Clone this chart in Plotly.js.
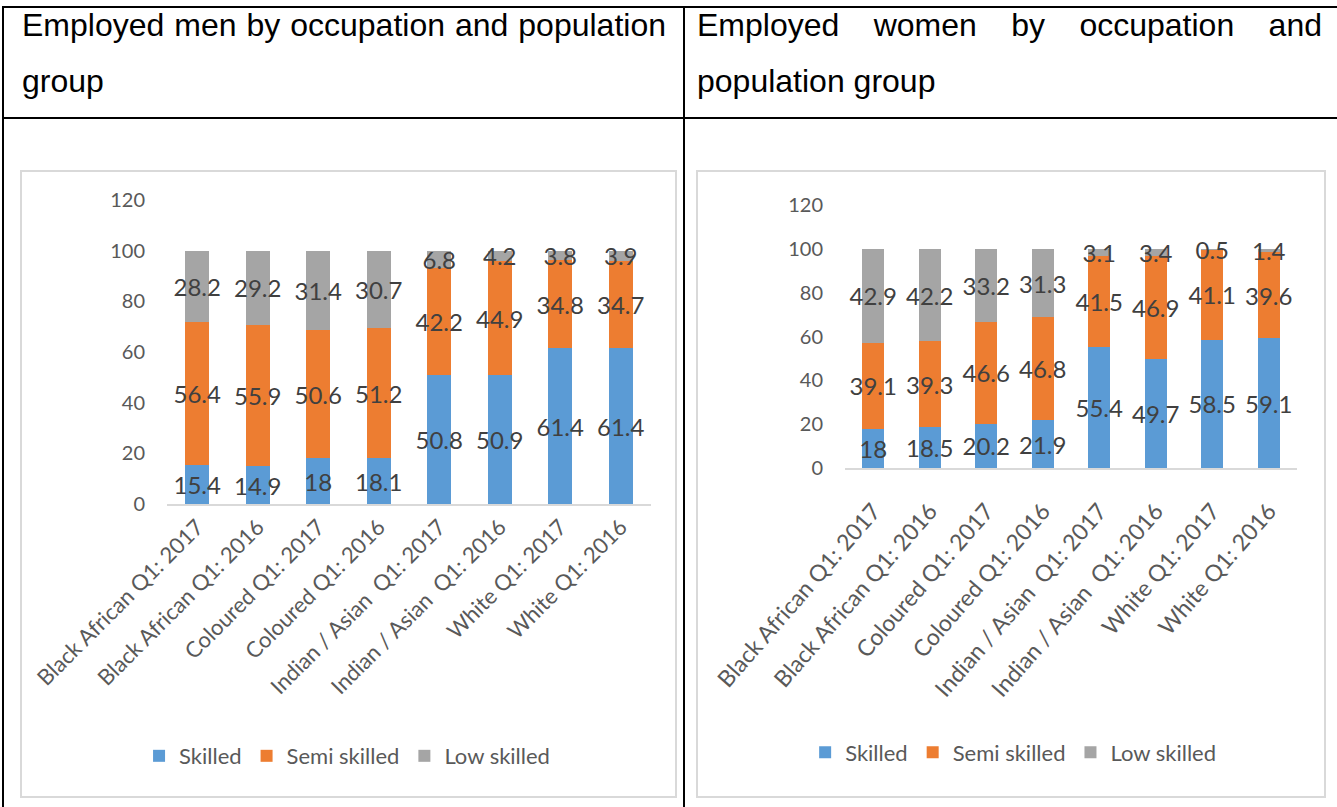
<!DOCTYPE html>
<html>
<head>
<meta charset="utf-8">
<script src="https://cdn.plot.ly/plotly-3.0.1.min.js"></script>
<style>
  html, body { margin: 0; padding: 0; background: #fff; }
  body { width: 1337px; height: 807px; position: relative; overflow: hidden; }
  .rule { position: absolute; background: #000; }
  .head { position: absolute; font-family: "Liberation Sans", Arial, sans-serif; font-size: 32px;
          line-height: 32px; color: #000; white-space: nowrap; }
  .just { text-align: justify; text-align-last: justify; white-space: normal; }
  .box { position: absolute; border: 2px solid #d9d9d9; box-sizing: border-box; background: #fff; }
  .plot { position: absolute; left: 0; top: 0; }
</style>
</head>
<body>
  <!-- table frame -->
  <div class="rule" style="left:2px;top:6px;width:1335px;height:2px;"></div>
  <div class="rule" style="left:2px;top:117px;width:1335px;height:2px;"></div>
  <div class="rule" style="left:2px;top:6px;width:2px;height:801px;"></div>
  <div class="rule" style="left:683px;top:6px;width:2px;height:801px;"></div>

  <!-- cell headings -->
  <div class="head just" style="left:22px;top:9px;width:644px;">Employed men by occupation and population</div>
  <div class="head" style="left:22px;top:65px;">group</div>
  <div class="head just" style="left:697px;top:9px;width:625px;">Employed women by occupation and</div>
  <div class="head" style="left:697px;top:65px;">population group</div>

  <div class="box" style="left:20px;top:170px;width:657px;height:628px;"><div id="men" class="plot"></div></div>
  <div class="box" style="left:696px;top:170px;width:630px;height:628px;"><div id="women" class="plot"></div></div>

<script>
// Population group / quarter categories
const categories = [
  "Black African Q1: 2017", "Black African Q1: 2016",
  "Coloured Q1: 2017", "Coloured Q1: 2016",
  "Indian / Asian\u00a0 Q1: 2017", "Indian / Asian\u00a0 Q1: 2016",
  "White Q1: 2017", "White Q1: 2016"
];
const seriesNames = ["Skilled", "Semi skilled", "Low skilled"];
const seriesColors = ["#5b9bd5", "#ed7d31", "#a5a5a5"];

// Employed men (%)
const menSkilled = [15.4, 14.9, 18, 18.1, 50.8, 50.9, 61.4, 61.4];
const menSemi    = [56.4, 55.9, 50.6, 51.2, 42.2, 44.9, 34.8, 34.7];
const menLow     = [28.2, 29.2, 31.4, 30.7, 6.8, 4.2, 3.8, 3.9];

// Employed women (%)
const womenSkilled = [18, 18.5, 20.2, 21.9, 55.4, 49.7, 58.5, 59.1];
const womenSemi    = [39.1, 39.3, 46.6, 46.8, 41.5, 46.9, 41.1, 39.6];
const womenLow     = [42.9, 42.2, 33.2, 31.3, 3.1, 3.4, 0.5, 1.4];

const yTicks = [0, 20, 40, 60, 80, 100, 120];

const FONT = "Lato, 'Noto Sans', sans-serif";
const LABEL_SIZE = 24;

function traces(values) {
  return values.map((v, i) => ({
    type: "bar",
    name: seriesNames[i],
    x: categories,
    y: v,
    text: v.map(String),
    textposition: "inside",
    insidetextanchor: "middle",
    constraintext: "none",
    textangle: 0,
    textfont: { family: FONT, size: LABEL_SIZE, color: "#404040" },
    marker: { color: seriesColors[i], line: { width: 0 } },
    hoverinfo: "skip"
  }));
}

function layout(w, h, m, legendX, legendY, xt) {
  return {
    width: w, height: h,
    margin: m,
    barmode: "stack",
    bargap: 0.61,
    paper_bgcolor: "#ffffff",
    plot_bgcolor: "#ffffff",
    font: { family: FONT, color: "#595959", size: 20 },
    uniformtext: { mode: "show", minsize: LABEL_SIZE },
    showlegend: true,
    legend: {
      orientation: "h", traceorder: "normal",
      x: legendX, xanchor: "center", y: legendY, yanchor: "middle",
      font: { family: FONT, size: 22, color: "#595959" },
      itemclick: false, itemdoubleclick: false
    },
    xaxis: {
      type: "category",
      tickangle: xt.angle,
      ticklabelstandoff: xt.standoff,
      tickfont: { family: FONT, size: xt.size, color: "#595959" },
      showline: true, linecolor: "#d9d9d9", linewidth: 1.5,
      ticks: "", showgrid: false, zeroline: false, fixedrange: true
    },
    yaxis: {
      range: [0, 120],
      tickvals: yTicks,
      ticktext: yTicks.map(String),
      tickfont: { family: FONT, size: 20, color: "#595959" },
      ticklabelstandoff: 21,
      showline: false, showgrid: false, zeroline: false, ticks: "", fixedrange: true
    }
  };
}

const cfg = { displayModeBar: false, staticPlot: true };

Plotly.newPlot("men", traces([menSkilled, menSemi, menLow]),
  layout(653, 624, { l: 144.7, r: 24.2, t: 28, b: 292 }, 0.372, -0.829,
         { angle: -45, standoff: 0, size: 22 }), cfg);

Plotly.newPlot("women", traces([womenSkilled, womenSemi, womenLow]),
  layout(626, 624, { l: 146.7, r: 26.7, t: 33.1, b: 328.2 }, 0.372, -1.082,
         { angle: -49, standoff: 19, size: 23 }), cfg);
</script>
</body>
</html>
